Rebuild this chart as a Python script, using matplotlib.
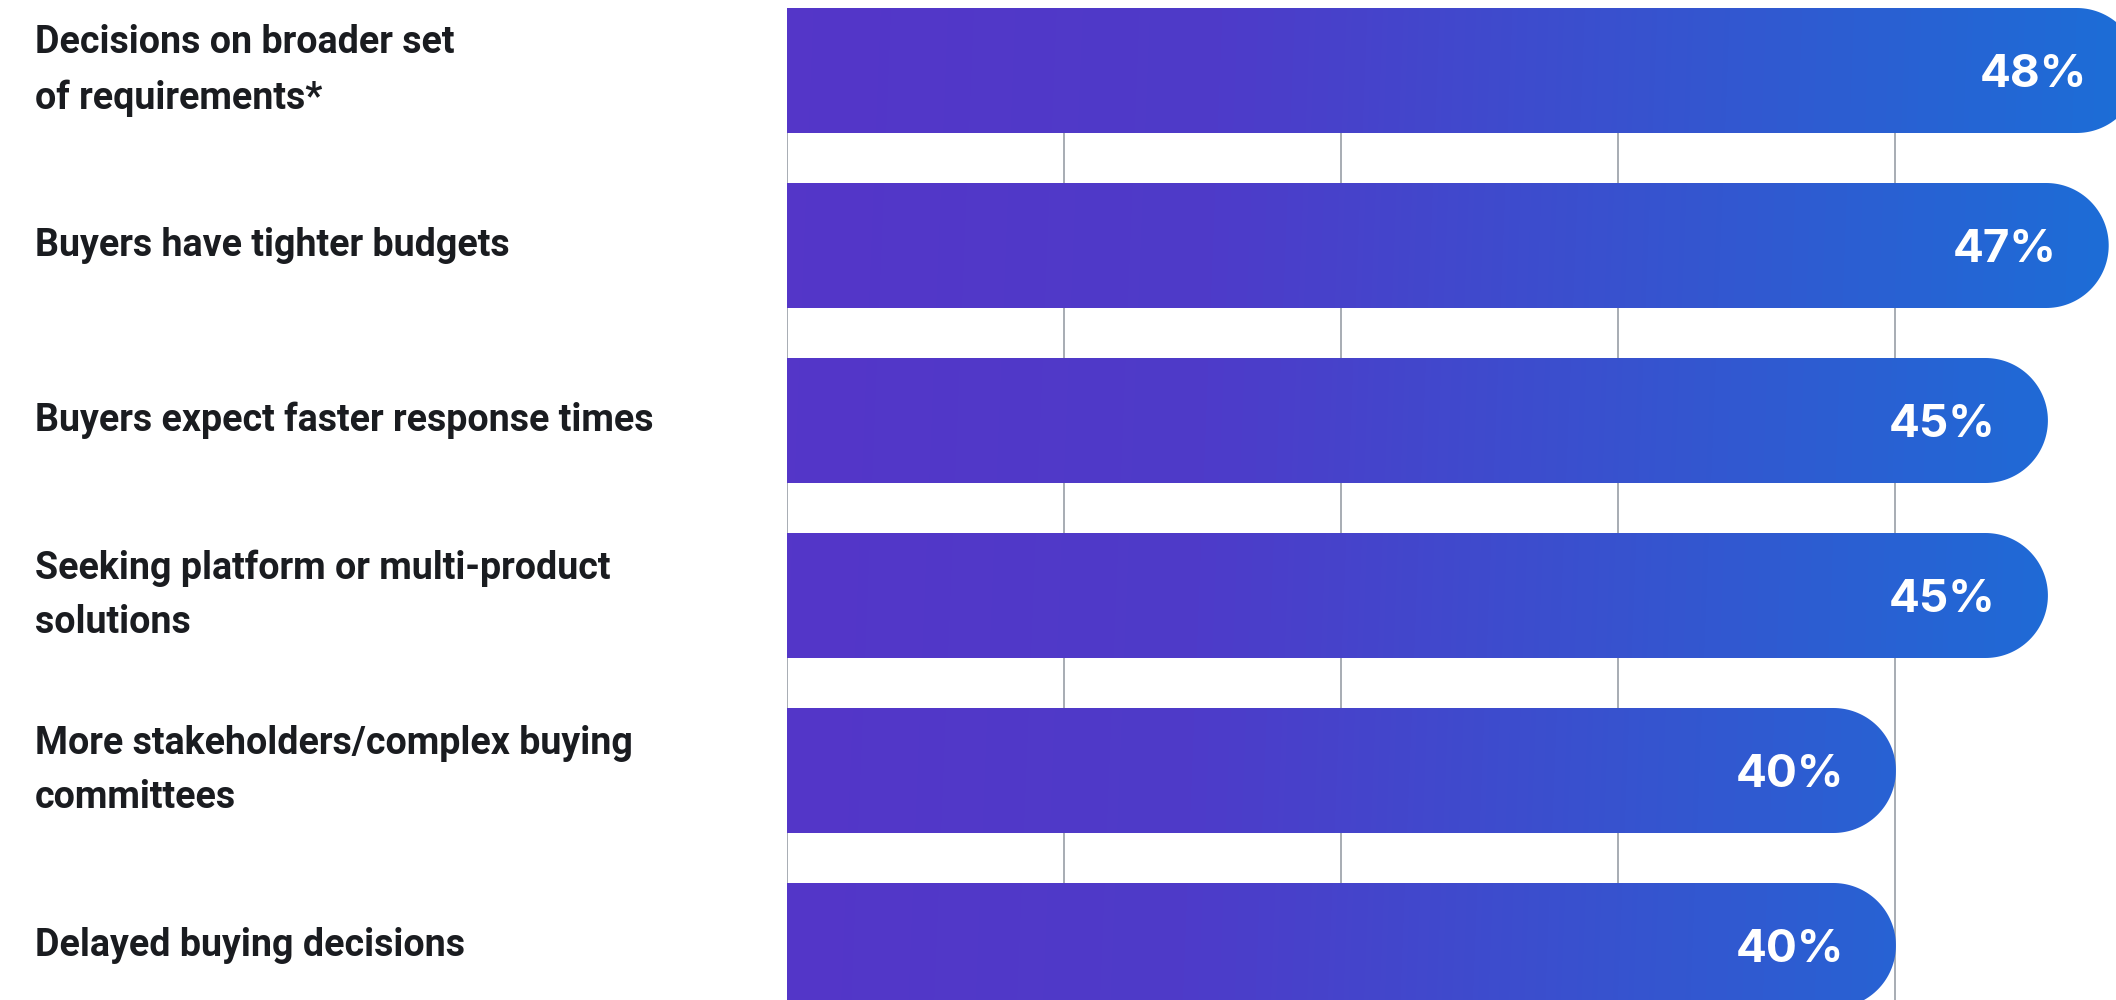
import numpy as np
import matplotlib
matplotlib.use("Agg")
import matplotlib.pyplot as plt
from matplotlib.path import Path
from matplotlib.patches import PathPatch
from matplotlib.colors import LinearSegmentedColormap
from matplotlib import font_manager

categories = [
    "Decisions on broader set\nof requirements*",
    "Buyers have tighter budgets",
    "Buyers expect faster response times",
    "Seeking platform or multi-product\nsolutions",
    "More stakeholders/complex buying\ncommittees",
    "Delayed buying decisions",
]
values = [48, 47, 45, 45, 40, 40]
value_labels = ["48%", "47%", "45%", "45%", "40%", "40%"]

names = {f.name for f in font_manager.fontManager.ttflist}
label_font = "Roboto" if "Roboto" in names else "Liberation Sans"
pct_font = "Inter" if "Inter" in names else "DejaVu Sans"

W, H, DPI = 2116, 1000, 100
fig = plt.figure(figsize=(W / DPI, H / DPI), dpi=DPI)
fig.patch.set_facecolor("white")

ax_left = 787 / W
ax = fig.add_axes([ax_left, 0, 1 - ax_left, 1])
ax.set_xlim(3.52, 47.24)
pitch = 175.0
ylim_top = -70.5 / pitch
ax.set_ylim(ylim_top + H / pitch, ylim_top)
ax.axis("off")

x0, x1 = ax.get_xlim()
yb, yt = ax.get_ylim()

# light gray gridlines behind the bars, from the first bar down
grid_x = np.arange(5) * 0.2085
ax.vlines(x0 + grid_x * (x1 - x0), 0, yb, colors="#a7acb3", lw=1.4, zorder=1)

cmap = LinearSegmentedColormap.from_list(
    "bars", [(0, "#5436c8"), (0.31, "#4e3bc9"), (0.75, "#2f5bd1"), (1.0, "#1c6ed7")])

GX, GY = np.meshgrid(np.linspace(0, 1, 400), np.linspace(0, 1, 200))
grad = np.clip(GX + (GY - 0.5) * 0.03, 0, 1)

px_per_unit = (1 - ax_left) * W / (x1 - x0)
bar_h = 125 / pitch
ry = bar_h / 2
rx = (125 / 2) / px_per_unit

for i, v in enumerate(values):
    # flat left end, round cap on the right
    th = np.linspace(-np.pi / 2, np.pi / 2, 80)
    arc = np.column_stack([v - rx + rx * np.cos(th), i + ry * np.sin(th)])
    verts = np.vstack([[0, i - ry], arc, [0, i + ry], [0, i - ry]])
    codes = [Path.MOVETO] + [Path.LINETO] * (len(verts) - 2) + [Path.CLOSEPOLY]
    patch = PathPatch(Path(verts, codes), facecolor="none", edgecolor="none")
    ax.add_patch(patch)
    im = ax.imshow(grad, cmap=cmap, extent=(x0, x1, yb, yt), origin="upper",
                   aspect="auto", interpolation="bilinear", zorder=2)
    im.set_clip_path(patch)
    ax.annotate(value_labels[i], xy=(v, i), xytext=(-52, 0), textcoords="offset pixels",
                ha="right", va="center_baseline", color="white", fontsize=33,
                fontweight="bold", family=pct_font, zorder=3, annotation_clip=False)

ax.set_xlim(x0, x1)
ax.set_ylim(yb, yt)

base = 30
texts = []
for i, lab in enumerate(categories):
    t = ax.text((35 - 787) / ((1 - ax_left) * W), i, lab, transform=ax.get_yaxis_transform(),
                ha="left", va="center", color="#1a1c20", fontsize=base, fontweight="bold",
                family=label_font, clip_on=False)
    texts.append(t)

# size the labels so "Buyers have tighter budgets" spans about 474 px
renderer = fig.canvas.get_renderer()
w = texts[1].get_window_extent(renderer).width
size = base * 474 / w
for t in texts:
    t.set_fontsize(size)
    t.set_linespacing(54 / (1.246 * size))

fig.savefig("out.png", dpi=DPI, facecolor="white")
